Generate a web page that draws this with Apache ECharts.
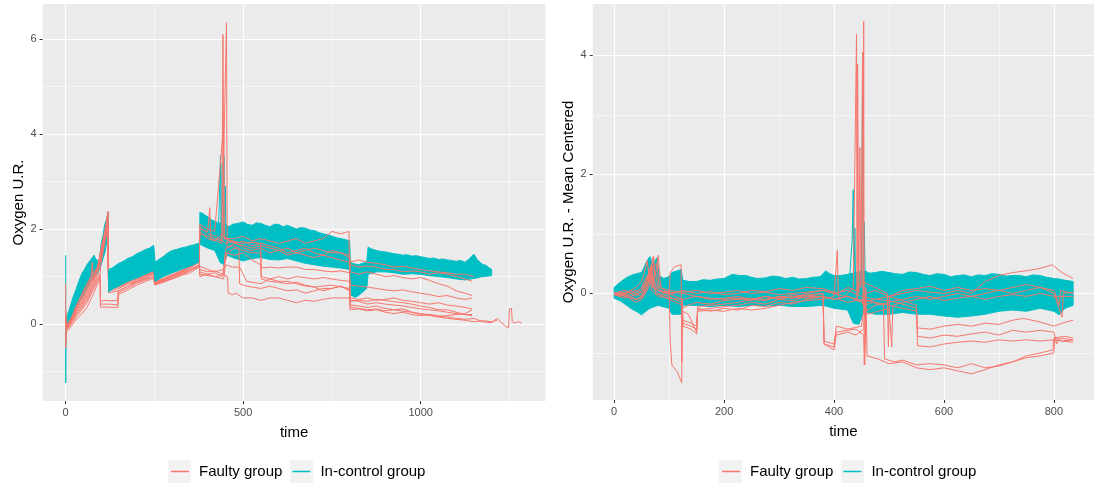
<!DOCTYPE html>
<html>
<head>
<meta charset="utf-8">
<script src="https://cdn.jsdelivr.net/npm/echarts@6/dist/echarts.min.js"></script>
<style>
html,body{margin:0;padding:0;background:#fff;}
#c{width:1094px;height:490px;}
</style>
</head>
<body>
<div id="c"></div>
<script>
const RED = '#F8766D';
const TEAL = '#00BFC4';
const legendNames = ['Faulty group', 'In-control group'];

// ---------- LEFT PANEL: Oxygen U.R. ----------
const leftXTicks = [0, 500, 1000];
const leftYTicks = [0, 2, 4, 6];
const leftXRange = [-65, 1352];
const leftYRange = [-1.62, 6.74];

const leftBandUpper = [[1,0.05],[5,0.2],[10,0.3],[15,0.42],[20,0.55],[25,0.65],[30,0.75],[38,0.92],[46,1.07],[53,1.15],[60,1.25],[68,1.33],[76,1.41],[80,1.45],[84,1.38],[88,1.35],[95,1.32],[100,1.7],[105,1.85],[110,2.1],[115,2.2],[118,2.3],[120,2.35],[121,1.15],[128,1.17],[135,1.2],[142,1.24],[150,1.28],[162,1.32],[175,1.38],[188,1.42],[200,1.48],[212,1.52],[225,1.57],[237,1.6],[248,1.66],[252,1.3],[262,1.36],[275,1.42],[288,1.5],[300,1.55],[312,1.57],[325,1.6],[337,1.62],[350,1.65],[362,1.67],[374,1.7],[378,2.35],[386,2.33],[395,2.28],[403,2.25],[410,2.2],[418,2.17],[425,2.15],[438,2.12],[450,2.1],[460,2.05],[470,2.1],[485,2.12],[500,2.15],[512,2.1],[525,2.08],[537,2.13],[550,2.12],[562,2.08],[575,2.05],[588,2.1],[600,2.1],[612,2.05],[625,2.08],[637,2.04],[650,2.0],[662,2.03],[675,2.02],[688,1.98],[700,1.97],[712,1.93],[725,1.9],[738,1.88],[750,1.85],[762,1.82],[775,1.8],[788,1.78],[800,1.75],[802,1.3],[812,1.27],[825,1.25],[836,1.28],[848,1.3],[852,1.62],[862,1.58],[875,1.55],[887,1.53],[900,1.52],[912,1.5],[925,1.48],[937,1.47],[950,1.45],[962,1.46],[975,1.43],[987,1.44],[1000,1.42],[1012,1.4],[1025,1.38],[1037,1.39],[1050,1.36],[1062,1.37],[1075,1.35],[1087,1.34],[1100,1.32],[1112,1.34],[1125,1.3],[1138,1.38],[1150,1.47],[1160,1.35],[1168,1.3],[1175,1.25],[1183,1.24],[1190,1.2],[1200,1.15]];
const leftBandLower = [[1,-0.1],[5,-0.02],[10,0.05],[20,0.2],[30,0.35],[46,0.55],[60,0.75],[76,1.0],[90,1.05],[95,1.15],[100,1.25],[110,1.5],[118,1.8],[120,1.85],[121,0.68],[135,0.75],[150,0.8],[175,0.9],[200,0.97],[225,1.05],[248,1.13],[252,0.9],[275,1.0],[300,1.08],[325,1.15],[350,1.22],[374,1.3],[378,1.68],[400,1.6],[420,1.55],[435,1.3],[445,1.25],[455,1.45],[470,1.4],[500,1.33],[525,1.38],[550,1.4],[575,1.36],[600,1.35],[625,1.38],[650,1.33],[675,1.28],[700,1.25],[725,1.22],[750,1.2],[775,1.18],[800,1.15],[802,0.62],[815,0.56],[825,0.6],[848,0.75],[852,1.05],[875,1.1],[900,1.1],[925,1.08],[950,1.05],[975,1.06],[1000,1.05],[1025,1.02],[1050,1.0],[1075,0.98],[1100,0.95],[1125,0.93],[1150,0.96],[1175,1.0],[1200,1.02]];
// time spans of the band; the middle one is painted over the faulty lines
const leftBandSpans = [[0, 120, 1], [121, 374, 4], [378, 1200, 1]];
const leftTealStart = [[0,1.45],[0,-1.24],[1,-0.05],[3,0.05]];
const leftTealSpikes = [[425,2.0],[430,1.9],[433,2.6],[436,3.55],[438,1.5],[441,3.4],[443,1.3],[446,3.55],[448,1.6],[450,2.9],[452,1.8],[455,1.9]];

const leftFaulty1 = [[0,0.85],[0,-0.5],[3,-0.15],[10,-0.1],[20,0.0],[30,0.1],[46,0.22],[60,0.35],[76,0.6],[90,0.85],[97,0.95],[98,0.48],[110,0.5],[125,0.49],[147,0.5],[148,0.62],[175,0.72],[200,0.82],[225,0.9],[248,0.96],[251,0.82],[275,0.88],[300,0.95],[325,1.02],[350,1.08],[376,1.2],[378,1.15],[400,1.1],[420,1.12],[440,1.05],[456,1.0],[458,0.65],[470,0.62],[480,0.65],[500,0.55],[525,0.55],[550,0.5],[575,0.55],[600,0.55],[625,0.5],[650,0.45],[675,0.5],[700,0.48],[725,0.52],[750,0.55],[775,0.55],[800,0.55],[802,0.4],[825,0.38],[850,0.35],[875,0.38],[900,0.33],[925,0.3],[950,0.32],[975,0.25],[1000,0.22],[1025,0.2],[1050,0.18],[1075,0.15],[1100,0.12],[1125,0.1],[1150,0.12],[1175,0.05],[1200,0.03],[1215,0.12],[1225,0.05],[1240,-0.05],[1248,-0.08],[1250,0.32],[1256,0.33],[1258,0.05],[1265,0.02],[1275,0.05],[1285,0.02]];
const leftFaulty2 = [[0,0.1],[3,-0.12],[10,-0.05],[20,0.05],[30,0.15],[46,0.3],[60,0.45],[76,0.7],[90,0.9],[97,1.0],[98,0.42],[125,0.42],[147,0.4],[148,0.66],[175,0.76],[200,0.86],[225,0.93],[248,1.0],[251,0.84],[275,0.9],[300,0.97],[325,1.05],[350,1.12],[376,1.22],[378,1.2],[400,1.15],[420,1.1],[445,1.15],[452,1.6],[470,1.65],[488,1.6],[490,0.85],[510,0.8],[525,0.78],[550,0.75],[575,0.8],[600,0.75],[625,0.7],[650,0.72],[675,0.65],[700,0.7],[725,0.75],[750,0.75],[775,0.8],[800,0.72],[802,0.48],[825,0.5],[850,0.48],[875,0.52],[900,0.5],[925,0.47],[950,0.45],[975,0.42],[1000,0.38],[1025,0.35],[1050,0.3],[1075,0.3],[1100,0.25],[1125,0.2],[1145,0.18]];
const leftFaulty3 = [[0,0.0],[3,-0.1],[10,-0.05],[20,0.08],[30,0.2],[46,0.35],[60,0.5],[76,0.75],[90,0.95],[97,1.05],[98,0.36],[147,0.35],[148,0.7],[175,0.8],[200,0.9],[225,0.97],[248,1.05],[251,0.86],[275,0.92],[300,1.0],[325,1.07],[350,1.15],[376,1.25],[378,1.05],[400,1.02],[425,1.0],[445,1.05],[450,1.5],[475,1.45],[500,1.5],[525,1.35],[549,1.25],[551,1.0],[575,0.95],[600,0.9],[625,0.9],[650,0.85],[675,0.8],[700,0.78],[725,0.7],[750,0.75],[775,0.8],[800,0.7],[802,0.35],[825,0.33],[850,0.3],[875,0.32],[900,0.28],[925,0.3],[950,0.27],[975,0.25],[1000,0.2],[1025,0.18],[1050,0.15],[1075,0.12],[1100,0.1],[1125,0.08],[1150,0.05],[1175,0.07],[1200,0.05],[1215,0.08]];
const leftFaulty4 = [[0,-0.05],[3,-0.08],[10,0.0],[20,0.15],[30,0.3],[46,0.5],[60,0.7],[76,0.95],[90,1.15],[100,1.5],[110,1.85],[118,2.3],[120,2.38],[121,0.78],[135,0.8],[150,0.82],[175,0.9],[200,0.95],[225,1.02],[248,1.1],[251,0.9],[275,0.96],[300,1.04],[325,1.12],[350,1.2],[376,1.32],[378,1.9],[400,1.85],[420,1.8],[440,1.75],[443,6.1],[446,1.8],[470,1.75],[500,1.7],[525,1.72],[549,1.7],[551,1.18],[575,1.2],[600,1.18],[625,1.2],[650,1.2],[675,1.15],[700,1.15],[725,1.12],[750,1.1],[775,1.12],[800,1.08],[802,0.82],[825,0.8],[850,0.78],[875,0.75],[900,0.72],[925,0.7],[950,0.72],[975,0.68],[1000,0.65],[1025,0.62],[1050,0.58],[1075,0.6],[1100,0.55],[1125,0.52],[1145,0.55]];
const leftFaulty5 = [[0,0.05],[3,-0.05],[10,0.02],[20,0.18],[30,0.35],[46,0.55],[60,0.75],[76,1.0],[90,1.2],[100,1.55],[110,1.9],[118,2.2],[121,0.75],[135,0.78],[150,0.8],[175,0.88],[200,0.98],[225,1.05],[248,1.12],[251,0.92],[275,1.0],[300,1.08],[325,1.15],[350,1.25],[376,1.38],[378,2.0],[400,1.95],[406,2.45],[409,1.8],[440,1.7],[453,6.35],[455,1.6],[475,1.7],[500,1.65],[525,1.6],[550,1.65],[575,1.6],[600,1.55],[625,1.6],[650,1.5],[675,1.55],[700,1.6],[725,1.55],[750,1.5],[775,1.5],[800,1.45],[802,1.25],[825,1.2],[850,1.22],[875,1.2],[900,1.15],[925,1.15],[950,1.1],[975,1.12],[1000,1.1],[1025,1.05],[1050,1.08],[1075,1.05],[1100,1.0],[1125,0.95],[1145,0.9]];
const leftFaulty6 = [[0,-0.1],[3,-0.1],[10,-0.02],[20,0.1],[30,0.25],[46,0.42],[60,0.6],[76,0.85],[90,1.05],[100,1.4],[110,1.75],[118,2.1],[121,0.7],[135,0.72],[150,0.75],[175,0.85],[200,0.9],[225,0.98],[248,1.05],[251,0.85],[275,0.92],[300,1.0],[325,1.08],[350,1.18],[376,1.3],[378,2.1],[400,2.0],[420,1.95],[445,4.2],[447,1.8],[475,1.8],[500,1.85],[525,1.75],[550,1.8],[575,1.75],[600,1.7],[625,1.75],[650,1.8],[675,1.7],[700,1.75],[725,1.8],[750,1.95],[775,1.9],[798,1.95],[801,0.3],[825,0.32],[850,0.28],[875,0.3],[900,0.25],[925,0.22],[950,0.25],[975,0.2],[1000,0.18],[1025,0.2],[1050,0.15],[1075,0.18],[1100,0.2],[1125,0.22],[1145,0.3]];
const leftFaulty7 = [[0,0.0],[3,-0.08],[10,0.0],[20,0.12],[30,0.28],[46,0.45],[60,0.65],[76,0.9],[90,1.1],[100,1.45],[110,1.8],[118,2.15],[121,0.72],[135,0.75],[150,0.78],[175,0.86],[200,0.93],[225,1.0],[248,1.08],[251,0.88],[275,0.95],[300,1.02],[325,1.1],[350,1.2],[376,1.35],[378,1.95],[400,1.8],[420,1.75],[440,1.9],[460,1.75],[480,1.7],[500,1.75],[525,1.65],[550,1.7],[575,1.65],[600,1.6],[625,1.5],[650,1.55],[675,1.6],[700,1.5],[725,1.45],[750,1.55],[775,1.5],[800,1.4],[802,1.1],[825,1.05],[850,1.1],[875,1.05],[900,1.0],[925,1.02],[950,0.98],[975,0.95],[1000,0.98],[1025,0.92],[1050,0.85],[1075,0.8],[1100,0.7],[1125,0.65],[1145,0.6]];
const leftFaulty8 = [[0,0.05],[3,-0.1],[10,-0.03],[20,0.1],[30,0.2],[46,0.38],[60,0.55],[76,0.8],[90,1.0],[97,1.05],[100,1.3],[110,1.7],[118,2.0],[121,0.66],[135,0.68],[150,0.7],[175,0.8],[200,0.88],[225,0.95],[248,1.0],[251,0.83],[275,0.9],[300,0.96],[325,1.04],[350,1.12],[376,1.24],[378,1.1],[400,1.05],[420,1.08],[440,1.0],[455,1.5],[475,1.6],[500,1.55],[525,1.5],[549,1.5],[551,0.95],[575,0.9],[600,0.88],[625,0.85],[650,0.88],[675,0.82],[700,0.78],[725,0.8],[750,0.82],[775,0.78],[800,0.75],[802,0.55],[825,0.52],[850,0.55],[875,0.5],[900,0.52],[925,0.55],[950,0.5],[975,0.48],[1000,0.45],[1025,0.42],[1050,0.45],[1075,0.4],[1100,0.38],[1125,0.35],[1145,0.32]];
const leftFaulty9 = [[0,0.2],[3,-0.05],[10,0.05],[20,0.2],[30,0.4],[46,0.64],[60,0.85],[76,1.07],[90,1.2],[100,1.6],[110,1.95],[118,2.3],[121,0.8],[135,0.82],[150,0.85],[175,0.95],[200,1.0],[225,1.07],[248,1.13],[251,0.95],[275,1.02],[300,1.1],[325,1.18],[350,1.3],[376,1.45],[378,2.05],[400,1.9],[425,1.85],[450,1.7],[475,1.75],[500,1.6],[525,1.55],[550,1.6],[575,1.5],[600,1.55],[625,1.45],[650,1.5],[675,1.45],[700,1.4],[725,1.45],[750,1.4],[775,1.35],[800,1.3],[825,1.35],[850,1.3],[875,1.28],[900,1.25],[925,1.2],[950,1.22],[975,1.18],[1000,1.15],[1025,1.12],[1050,1.1],[1075,1.08],[1100,1.05],[1125,1.05],[1150,1.0]];
const leftFaulty10 = [[0,0.3],[3,0.0],[10,0.05],[20,0.15],[30,0.32],[46,0.6],[60,0.8],[72,1.0],[75,1.3],[78,0.9],[85,1.1],[90,1.18],[100,1.55],[110,1.9],[118,2.25],[121,0.74],[135,0.76],[150,0.8],[175,0.9],[200,0.96],[225,1.03],[248,1.1],[251,0.87],[275,0.94],[300,1.02],[325,1.1],[350,1.22],[376,1.4],[378,1.0],[400,1.05],[420,1.0],[445,0.95],[450,1.25],[470,1.2],[490,1.2],[510,0.9],[525,0.88],[550,0.85],[575,0.95],[600,1.0],[625,0.95],[650,1.0],[675,0.98],[700,0.95],[725,0.98],[750,0.95],[775,0.92],[800,0.9],[802,0.5],[825,0.48],[850,0.42],[875,0.45],[900,0.42],[925,0.4],[950,0.38],[975,0.35],[1000,0.32],[1025,0.3],[1050,0.28],[1075,0.25],[1100,0.22],[1125,0.2],[1145,0.2]];

// ---------- RIGHT PANEL: mean centered ----------
const rightXTicks = [0, 200, 400, 600, 800];
const rightYTicks = [0, 2, 4];
const rightXRange = [-39, 873];
const rightYRange = [-1.79, 4.86];

const rightBandUpper = [[0,0.1],[10,0.18],[20,0.25],[30,0.3],[40,0.33],[50,0.35],[55,0.45],[60,0.55],[65,0.62],[70,0.5],[78,0.6],[82,0.3],[90,0.25],[100,0.28],[105,0.35],[115,0.38],[122,0.4],[125,0.22],[137,0.2],[150,0.2],[162,0.23],[175,0.22],[187,0.24],[200,0.25],[215,0.32],[228,0.3],[240,0.3],[250,0.27],[260,0.25],[275,0.26],[287,0.29],[300,0.28],[312,0.25],[325,0.27],[337,0.24],[350,0.25],[362,0.27],[375,0.28],[385,0.38],[392,0.33],[400,0.3],[412,0.3],[425,0.32],[440,0.35],[455,0.38],[465,0.34],[475,0.35],[487,0.37],[500,0.35],[512,0.33],[525,0.32],[537,0.36],[550,0.35],[562,0.32],[575,0.3],[587,0.33],[600,0.32],[612,0.28],[625,0.3],[637,0.31],[650,0.28],[662,0.31],[675,0.3],[687,0.33],[700,0.32],[712,0.29],[725,0.3],[737,0.3],[750,0.28],[762,0.31],[775,0.3],[787,0.27],[800,0.25],[810,0.24],[820,0.22],[835,0.2]];
const rightBandLower = [[0,-0.08],[10,-0.12],[20,-0.18],[30,-0.25],[40,-0.3],[50,-0.36],[55,-0.32],[65,-0.25],[80,-0.2],[100,-0.25],[105,-0.35],[122,-0.35],[125,-0.2],[150,-0.2],[175,-0.22],[200,-0.2],[225,-0.22],[250,-0.2],[275,-0.21],[300,-0.2],[325,-0.22],[350,-0.22],[380,-0.2],[400,-0.25],[425,-0.28],[435,-0.5],[445,-0.52],[455,-0.3],[475,-0.35],[500,-0.35],[525,-0.32],[550,-0.35],[575,-0.35],[600,-0.38],[625,-0.4],[650,-0.38],[675,-0.35],[700,-0.3],[725,-0.28],[750,-0.3],[775,-0.25],[800,-0.3],[810,-0.36],[820,-0.25],[835,-0.2]];
const rightBandSpans = [[0, 835, 1]];
const rightTealSpikes = [[428,0.2],[433,0.9],[435,1.74],[436,0.1],[438,1.1],[440,-0.4],[445,-0.5],[450,0.2],[452,3.81],[453,0.0],[455,1.2],[457,0.1]];

const rightFaulty1 = [[0,0],[10,-0.02],[20,-0.05],[30,0.0],[40,-0.05],[50,0.05],[60,0.25],[65,0.4],[70,0.2],[75,0.35],[80,0.1],[90,0.0],[100,0.05],[102,-0.8],[105,-1.2],[115,-1.32],[123,-1.5],[124,-0.25],[135,-0.2],[150,-0.15],[175,-0.18],[200,-0.12],[225,-0.1],[250,-0.08],[275,-0.1],[300,-0.05],[325,-0.08],[350,-0.03],[380,0.0],[382,-0.85],[400,-0.9],[404,-0.65],[425,-0.62],[440,-0.6],[454,-0.7],[456,-1.2],[458,-0.3],[475,-0.2],[500,-0.15],[525,-0.1],[550,-0.05],[575,-0.1],[600,-0.05],[625,0.0],[650,-0.05],[675,0.0],[700,0.05],[725,0.0],[750,0.05],[775,0.1],[800,0.0],[815,-0.4],[817,0.0],[835,0.02]];
const rightFaulty2 = [[0,0.02],[10,-0.02],[20,0.0],[30,0.05],[40,0.1],[50,0.2],[55,0.35],[60,0.55],[65,0.2],[70,0.6],[75,0.3],[80,0.64],[85,0.1],[100,0.0],[102,0.35],[110,0.45],[122,0.48],[123,-1.15],[124,-0.3],[135,-0.35],[140,-0.45],[150,-0.65],[152,-0.25],[175,-0.3],[200,-0.25],[225,-0.28],[250,-0.2],[275,-0.22],[300,-0.15],[325,-0.18],[350,-0.1],[380,-0.05],[382,-0.8],[400,-0.85],[404,-0.55],[425,-0.6],[450,-0.55],[455,-0.2],[470,-0.15],[490,-0.2],[492,-1.1],[510,-1.15],[525,-1.12],[550,-1.2],[575,-1.18],[600,-1.2],[625,-1.25],[650,-1.18],[675,-1.25],[700,-1.22],[725,-1.15],[750,-1.05],[775,-1.0],[798,-0.95],[800,-0.75],[820,-0.72],[835,-0.75]];
const rightFaulty3 = [[0,-0.02],[10,-0.05],[20,-0.08],[30,-0.05],[40,-0.1],[50,-0.05],[60,0.1],[66,0.45],[70,0.1],[80,0.0],[100,-0.05],[110,-0.1],[124,-0.15],[125,-0.5],[140,-0.55],[150,-0.6],[152,-0.3],[175,-0.28],[200,-0.3],[225,-0.25],[250,-0.28],[275,-0.25],[300,-0.2],[325,-0.15],[350,-0.12],[380,-0.1],[400,-0.05],[406,0.72],[408,-0.1],[425,-0.15],[450,-0.1],[475,-0.15],[500,-0.2],[525,-0.25],[550,-0.3],[552,-0.58],[575,-0.6],[600,-0.55],[625,-0.52],[650,-0.55],[675,-0.5],[700,-0.52],[725,-0.45],[745,-0.42],[775,-0.48],[800,-0.55],[815,-0.5],[835,-0.45]];
const rightFaulty4 = [[0,0.0],[10,-0.03],[20,-0.02],[30,-0.1],[40,-0.15],[50,-0.1],[60,0.05],[70,0.3],[72,0.62],[75,0.0],[90,-0.05],[100,-0.1],[124,-0.2],[125,-0.55],[140,-0.6],[150,-0.68],[152,-0.28],[175,-0.25],[200,-0.22],[225,-0.2],[250,-0.15],[275,-0.18],[300,-0.1],[325,-0.12],[350,-0.05],[380,-0.05],[400,-0.1],[425,-0.05],[450,-0.15],[475,-0.1],[500,-0.05],[525,-0.12],[550,-0.2],[552,-0.72],[575,-0.75],[600,-0.7],[625,-0.72],[650,-0.68],[675,-0.65],[700,-0.7],[725,-0.62],[750,-0.65],[775,-0.62],[800,-0.65],[805,-0.85],[810,-0.75],[835,-0.78]];
const rightFaulty5 = [[0,0.0],[10,0.0],[20,-0.05],[30,-0.08],[40,-0.1],[50,-0.08],[60,0.1],[65,0.35],[68,0.15],[80,0.05],[100,0.0],[124,-0.1],[125,-0.45],[140,-0.5],[150,-0.55],[152,-0.22],[175,-0.2],[200,-0.18],[225,-0.15],[250,-0.1],[275,-0.12],[300,-0.05],[325,-0.08],[350,0.0],[380,0.05],[400,0.0],[425,0.05],[450,-0.05],[475,-0.1],[500,-0.12],[525,-0.18],[550,-0.25],[552,-0.88],[575,-0.9],[600,-0.85],[625,-0.82],[650,-0.8],[675,-0.82],[700,-0.78],[725,-0.8],[750,-0.78],[775,-0.8],[800,-0.78],[815,-0.8],[835,-0.82]];
const rightFaulty6 = [[0,0.0],[10,0.02],[20,0.0],[30,0.02],[40,0.05],[50,0.0],[60,0.2],[68,0.5],[72,0.1],[80,0.05],[100,0.02],[125,0.0],[150,-0.05],[175,-0.1],[200,-0.08],[225,-0.05],[250,-0.1],[275,-0.05],[300,-0.08],[325,-0.02],[350,-0.05],[380,0.0],[382,-0.85],[400,-0.95],[404,-0.7],[425,-0.65],[440,-0.7],[454,-0.6],[458,0.1],[460,-1.05],[480,-1.1],[500,-1.18],[525,-1.15],[550,-1.25],[575,-1.28],[600,-1.25],[625,-1.3],[650,-1.35],[675,-1.28],[700,-1.2],[725,-1.15],[750,-1.08],[775,-1.05],[800,-1.0],[802,-0.75],[815,-0.8],[835,-0.78]];
const rightFaulty7 = [[0,0.0],[10,0.03],[20,0.05],[30,0.0],[40,0.02],[50,0.1],[60,0.3],[62,0.2],[70,0.45],[78,0.5],[82,0.1],[100,0.05],[125,0.02],[150,0.05],[175,0.0],[200,0.02],[225,0.05],[250,0.0],[275,0.02],[300,-0.02],[325,0.0],[350,0.02],[380,0.05],[400,0.0],[420,-0.05],[435,0.1],[441,4.35],[442,-0.1],[443,3.85],[445,0.0],[447,2.45],[449,0.1],[452,4.05],[453,-0.2],[454,4.57],[455,-1.2],[458,0.0],[475,0.05],[500,-0.05],[525,0.0],[550,0.05],[575,0.02],[600,0.0],[625,0.05],[650,0.0],[675,0.2],[700,0.3],[725,0.35],[750,0.38],[775,0.42],[797,0.48],[815,0.35],[835,0.25]];
const rightFaulty8 = [[0,0.0],[10,-0.02],[20,0.02],[30,0.05],[40,0.0],[50,-0.05],[60,0.15],[70,0.25],[80,0.05],[100,-0.02],[125,0.05],[150,0.0],[175,0.03],[200,-0.02],[225,0.0],[250,0.05],[275,0.03],[300,0.08],[325,0.05],[350,0.1],[380,0.08],[406,0.0],[425,0.1],[440,0.05],[450,0.2],[475,0.1],[497,0.0],[499,-0.9],[501,-0.05],[525,0.05],[550,0.08],[575,0.12],[600,0.05],[625,0.1],[650,0.05],[675,0.08],[700,0.05],[725,0.1],[750,0.15],[775,0.1],[800,0.05],[810,-0.2],[812,0.05],[835,0.0]];
const rightFaulty9 = [[0,-0.02],[10,-0.05],[20,-0.02],[30,-0.05],[40,-0.02],[50,0.05],[60,0.2],[64,0.4],[68,0.05],[80,-0.05],[100,-0.08],[125,-0.1],[150,-0.05],[175,-0.08],[200,-0.1],[225,-0.08],[250,-0.12],[275,-0.05],[300,-0.1],[325,-0.05],[350,-0.08],[380,-0.05],[400,-0.1],[425,-0.05],[450,-0.12],[460,-0.35],[480,-0.3],[500,-0.25],[505,-0.9],[507,-0.2],[525,-0.15],[550,-0.1],[575,-0.05],[600,-0.12],[625,-0.08],[650,-0.05],[675,-0.1],[700,-0.05],[725,-0.02],[750,-0.05],[775,0.0],[800,-0.05],[835,-0.05]];

const leftFaulty = [leftFaulty1, leftFaulty2, leftFaulty3, leftFaulty4, leftFaulty5, leftFaulty6, leftFaulty7, leftFaulty8, leftFaulty9, leftFaulty10];
const rightFaulty = [rightFaulty1, rightFaulty2, rightFaulty3, rightFaulty4, rightFaulty5, rightFaulty6, rightFaulty7, rightFaulty8, rightFaulty9];

// ---------- build ----------
const FONT = '"Liberation Sans", Arial, sans-serif';

function lineSeries(name, color, data, idx, z) {
  return {
    type: 'line', name: name, xAxisIndex: idx, yAxisIndex: idx,
    data: data, showSymbol: false, symbol: 'none', color: color,
    lineStyle: { width: 1, color: color }, itemStyle: { color: color },
    animation: false, silent: true, z: z, clip: true
  };
}
function bandSeries(upper, lower, idx, span) {
  const inSpan = p => p[0] >= span[0] && p[0] <= span[1];
  const up = upper.filter(inSpan), lo = lower.filter(inSpan);
  return {
    type: 'custom', name: 'In-control group', xAxisIndex: idx, yAxisIndex: idx,
    data: [[up[0][0], up[0][1]]], color: TEAL, itemStyle: { color: TEAL },
    animation: false, silent: true, z: span[2],
    renderItem: function (params, api) {
      const pts = up.map(p => api.coord(p)).concat(lo.slice().reverse().map(p => api.coord(p)));
      return { type: 'polygon', shape: { points: pts }, style: { fill: TEAL, stroke: TEAL, lineWidth: 1 } };
    }
  };
}
function xAxis(idx, range, ticks, splitNumber) {
  return {
    type: 'value', gridIndex: idx, min: range[0], max: range[1], splitNumber: splitNumber,
    name: 'time', nameLocation: 'middle', nameGap: 24,
    nameTextStyle: { color: '#000', fontSize: 15, fontFamily: FONT },
    axisLine: { show: false, onZero: false },
    axisTick: { show: true, length: 3, customValues: ticks, lineStyle: { color: '#333333', width: 1 } },
    axisLabel: { customValues: ticks, margin: 6, color: '#4D4D4D', fontSize: 11, fontFamily: FONT, formatter: v => String(v) },
    splitLine: { show: true, lineStyle: { color: '#FFFFFF', width: 1.1 } },
    minorTick: { show: false, splitNumber: 2 },
    minorSplitLine: { show: true, lineStyle: { color: '#FFFFFF', width: 0.55 } }
  };
}
function yAxis(idx, range, ticks, name) {
  return {
    type: 'value', gridIndex: idx, min: range[0], max: range[1], splitNumber: 4,
    name: name, nameLocation: 'middle', nameGap: 15,
    nameTextStyle: { color: '#000', fontSize: 15, fontFamily: FONT },
    axisLine: { show: false, onZero: false },
    axisTick: { show: true, length: 3, customValues: ticks, lineStyle: { color: '#333333', width: 1 } },
    axisLabel: { customValues: ticks, margin: 6, color: '#4D4D4D', fontSize: 11, fontFamily: FONT, formatter: v => String(v) },
    splitLine: { show: true, lineStyle: { color: '#FFFFFF', width: 1.1 } },
    minorTick: { show: false, splitNumber: 2 },
    minorSplitLine: { show: true, lineStyle: { color: '#FFFFFF', width: 0.55 } }
  };
}
function legend(left) {
  return {
    left: left, top: 464, padding: 0, itemGap: 10, itemWidth: 18, itemHeight: 1.5, icon: 'rect',
    selectedMode: false,
    textStyle: { fontSize: 15, color: '#000', fontFamily: FONT, padding: [0, 0, 0, 5] },
    data: [{ name: legendNames[0], itemStyle: { color: RED } }, { name: legendNames[1], itemStyle: { color: TEAL } }]
  };
}

const series = [];
leftBandSpans.forEach(s => series.push(bandSeries(leftBandUpper, leftBandLower, 0, s)));
series.push(lineSeries(legendNames[1], TEAL, leftTealStart, 0, 2));
series.push(lineSeries(legendNames[1], TEAL, leftTealSpikes, 0, 2));
leftFaulty.forEach(d => series.push(lineSeries(legendNames[0], RED, d, 0, 3)));
rightBandSpans.forEach(s => series.push(bandSeries(rightBandUpper, rightBandLower, 1, s)));
series.push(lineSeries(legendNames[1], TEAL, rightTealSpikes, 1, 2));
rightFaulty.forEach(d => series.push(lineSeries(legendNames[0], RED, d, 1, 3)));

const keyBox = (x) => ({ type: 'rect', shape: { x: x, y: 460, width: 23, height: 23 }, style: { fill: '#F2F2F2' }, z: -1, silent: true });

const option = {
  animation: false,
  backgroundColor: '#FFFFFF',
  grid: [
    { left: 42.6, top: 4, width: 503, height: 397, show: true, backgroundColor: '#EBEBEB', borderWidth: 0 },
    { left: 592.7, top: 4, width: 501.3, height: 396, show: true, backgroundColor: '#EBEBEB', borderWidth: 0 }
  ],
  xAxis: [xAxis(0, leftXRange, leftXTicks, 3), xAxis(1, rightXRange, rightXTicks, 4)],
  yAxis: [yAxis(0, leftYRange, leftYTicks, 'Oxygen U.R.'), yAxis(1, rightYRange, rightYTicks, 'Oxygen U.R. - Mean Centered')],
  legend: [legend(171), legend(722)],
  graphic: [keyBox(168), keyBox(290), keyBox(719), keyBox(841)],
  series: series
};

const chart = echarts.init(document.getElementById('c'), null, { renderer: 'canvas' });
chart.setOption(option);
</script>
</body>
</html>
